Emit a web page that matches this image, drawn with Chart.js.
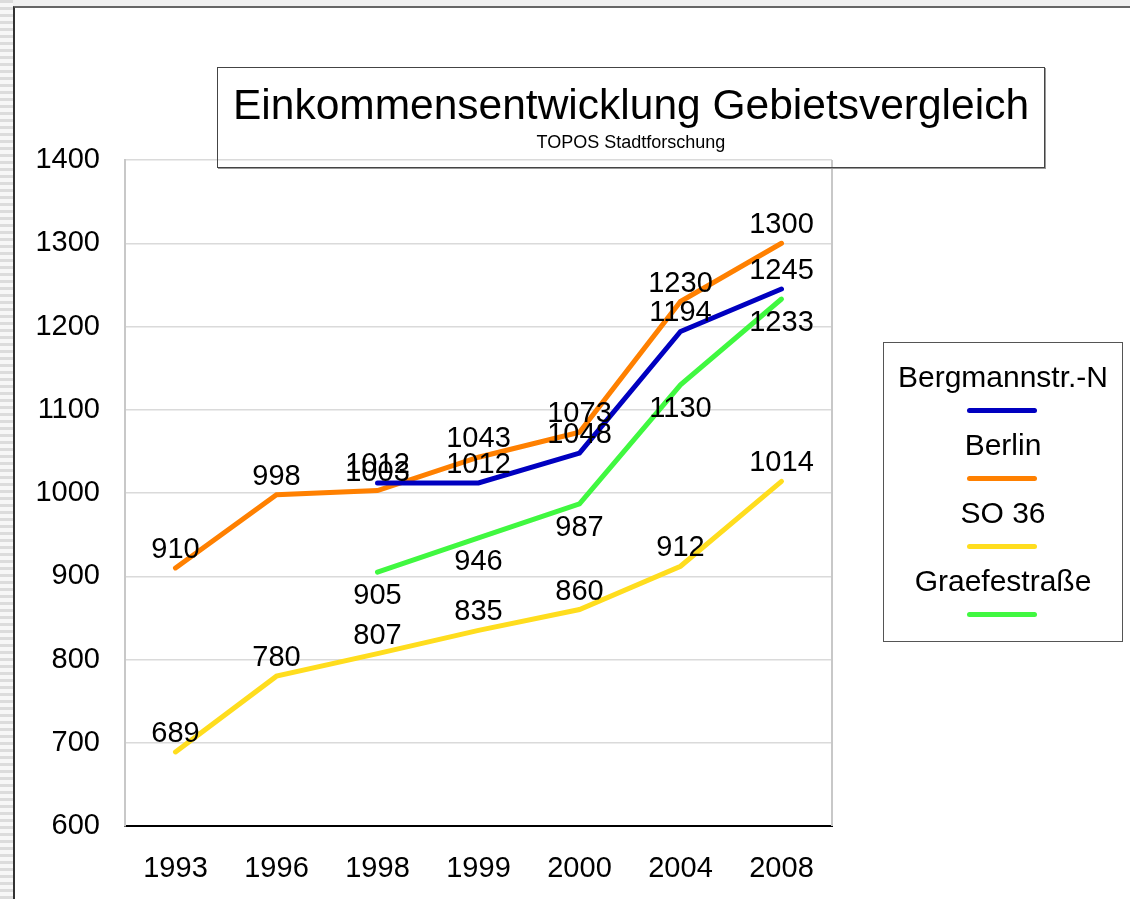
<!DOCTYPE html>
<html><head><meta charset="utf-8">
<script src="https://cdn.jsdelivr.net/npm/chart.js@4/dist/chart.umd.min.js"></script>
<style>
html,body{margin:0;padding:0;width:1130px;height:899px;overflow:hidden;background:#fff;font-family:"Liberation Sans",Arial,sans-serif;color:#000}
#stripes{position:absolute;left:0;top:0;width:13px;height:899px;background:repeating-linear-gradient(to bottom,#dcdcdc 0,#dcdcdc 3px,#f7f7f7 3px,#f7f7f7 7px)}
#topstrip{position:absolute;left:0;top:0;width:1130px;height:6px;background:#f0f0f0}
#frame{position:absolute;left:13px;top:6px;width:1117px;height:893px;border-left:2px solid #333;border-top:2px solid #666;box-sizing:border-box;background:#fff}
#wrap{position:absolute;left:0;top:0;width:1130px;height:899px}
#titlebox{position:absolute;left:217px;top:67px;width:828px;height:101px;border:1px solid #444;box-sizing:border-box;box-shadow:1px 1px 0 #999;pointer-events:none}
#title{position:absolute;left:0;width:100%;top:16px;text-align:center;font-size:42.5px;line-height:42px;white-space:nowrap}
#subtitle{position:absolute;left:0;width:100%;top:65px;text-align:center;font-size:18px;line-height:18px;white-space:nowrap}
#legend{position:absolute;left:883px;top:342px;width:240px;height:300px;border:1px solid #555;box-sizing:border-box}
.li{position:absolute;left:0;width:100%;height:68px}
.lt{position:absolute;left:0;width:100%;top:19px;text-align:center;font-size:30px;line-height:29px;white-space:nowrap}
.ls{position:absolute;left:83px;width:70px;height:5px;top:65px;border-radius:3px}
</style>
</head><body>
<div id="topstrip"></div>
<div id="stripes"></div>
<div id="frame"></div>
<div id="wrap"><canvas id="c" width="1130" height="899"></canvas></div>
<div id="titlebox"><div id="title">Einkommensentwicklung Gebietsvergleich</div><div id="subtitle">TOPOS Stadtforschung</div></div>
<div id="legend"></div>
<script>
const categories = ["1993","1996","1998","1999","2000","2004","2008"];
const bergmann = [null, null, 1012, 1012, 1048, 1194, 1245];
const berlin = [910, 998, 1003, 1043, 1073, 1230, 1300];
const so36 = [689, 780, 807, 835, 860, 912, 1014];
const graefe = [null, null, 905, 946, 987, 1130, 1233];
const seriesNames = ["Bergmannstr.-N", "Berlin", "SO 36", "Graefestraße"];
const yTicks = [600, 700, 800, 900, 1000, 1100, 1200, 1300, 1400];

const FONT = '"Liberation Sans", Arial, sans-serif';

const labelPlugin = {
  id: 'valueLabels',
  afterDatasetsDraw(chart) {
    const ctx = chart.ctx;
    ctx.save();
    ctx.font = '29px ' + FONT;
    ctx.fillStyle = '#000';
    ctx.textAlign = 'center';
    ctx.textBaseline = 'alphabetic';
    chart.data.datasets.forEach((ds, di) => {
      const meta = chart.getDatasetMeta(di);
      meta.data.forEach((pt, i) => {
        const v = ds.data[i];
        if (v === null || v === undefined) return;
        ctx.fillText(String(v), pt.x, pt.y + ds.labelShift);
      });
    });
    ctx.restore();
  }
};

const borderPlugin = {
  id: 'areaBorder',
  beforeDatasetsDraw(chart) {
    const a = chart.chartArea, ctx = chart.ctx;
    ctx.save();
    ctx.strokeStyle = '#c8c8c8';
    ctx.lineWidth = 2;
    ctx.beginPath();
    ctx.moveTo(a.right, a.top);
    ctx.lineTo(a.right, a.bottom);
    ctx.stroke();
    ctx.restore();
  }
};

const mk = (label, data, color, shift) => ({
  label, data, borderColor: color, backgroundColor: color,
  borderWidth: 5, pointRadius: 0, pointHoverRadius: 0, tension: 0,
  borderCapStyle: 'round', borderJoinStyle: 'miter', fill: false, labelShift: shift
});

const chart = new Chart(document.getElementById('c'), {
  type: 'line',
  data: {
    labels: categories,
    datasets: [
      mk(seriesNames[0], bergmann, '#0000C0', -10),
      mk(seriesNames[1], berlin, '#FF8000', -10),
      mk(seriesNames[2], so36, '#FFDD1E', -10),
      mk(seriesNames[3], graefe, '#40F840', 32)
    ]
  },
  options: {
    responsive: false,
    animation: false,
    events: [],
    layout: { padding: { left: 0, top: 160, right: 298, bottom: 0 } },
    plugins: { legend: { display: false }, title: { display: false }, tooltip: { enabled: false } },
    scales: {
      x: {
        offset: true,
        grid: { display: false, drawTicks: false },
        border: { display: true, color: '#000', width: 2 },
        ticks: { color: '#000', font: { size: 29, family: FONT }, padding: 26, maxRotation: 0 },
        afterFit(s) { s.height = 73; }
      },
      y: {
        min: yTicks[0], max: yTicks[yTicks.length - 1],
        afterBuildTicks(s) { s.ticks = yTicks.map(v => ({ value: v })); },
        grid: { color: '#dadada', lineWidth: 1.5, drawTicks: false },
        border: { display: true, color: '#c8c8c8', width: 2 },
        ticks: { color: '#000', font: { size: 29, family: FONT }, padding: 25, callback: v => String(v) },
        afterFit(s) { s.width = 125; }
      }
    }
  },
  plugins: [borderPlugin, labelPlugin]
});

// HTML legend built from the chart's datasets
const leg = document.getElementById('legend');
chart.data.datasets.forEach((ds, i) => {
  const item = document.createElement('div');
  item.className = 'li';
  item.style.top = (i * 68) + 'px';
  const t = document.createElement('div');
  t.className = 'lt';
  t.textContent = ds.label;
  const s = document.createElement('div');
  s.className = 'ls';
  s.style.background = ds.borderColor;
  item.appendChild(t);
  item.appendChild(s);
  leg.appendChild(item);
});
</script>
</body></html>
